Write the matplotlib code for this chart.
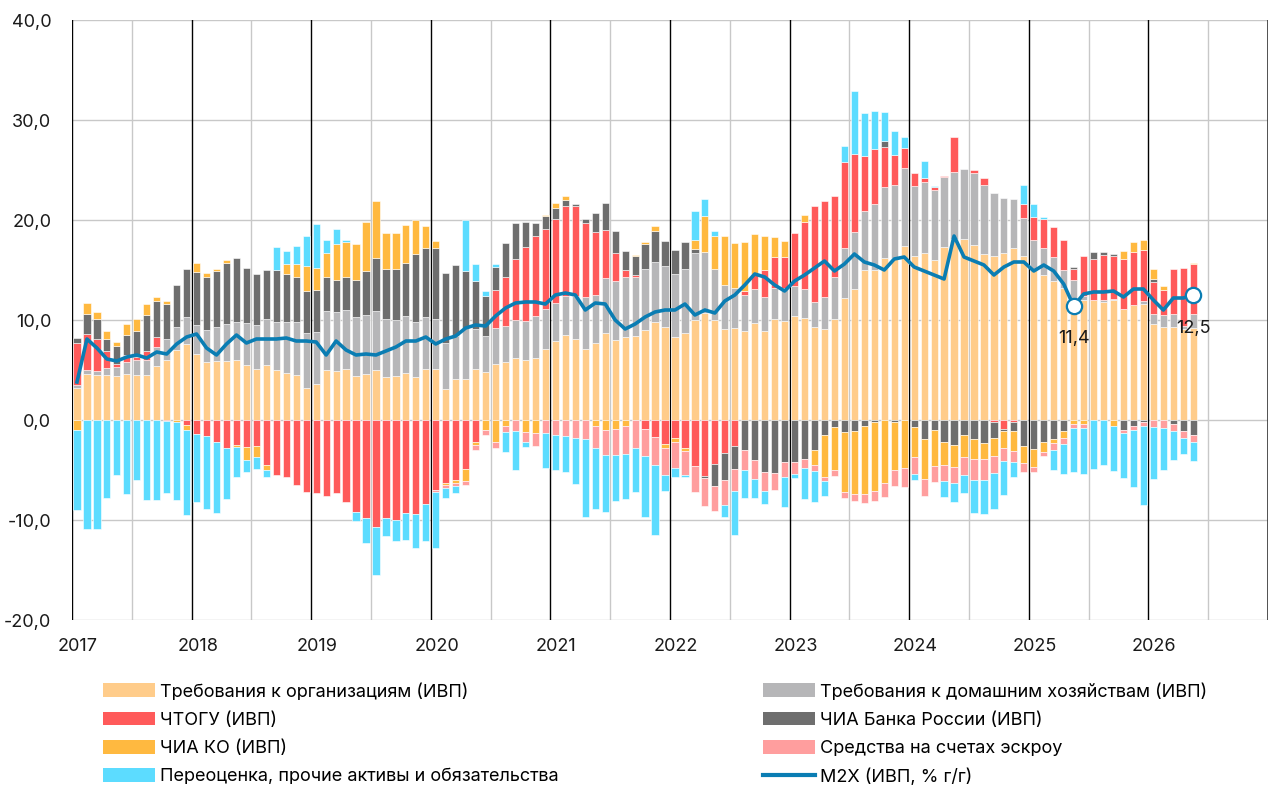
import numpy as np
import matplotlib.pyplot as plt
from matplotlib.patches import Patch
from matplotlib.lines import Line2D

plt.rcParams['font.family'] = ['Inter', 'DejaVu Sans']

# contributions to M2X growth, p.p., monthly from Jan 2017
org = [3.2, 4.6, 4.5, 4.5, 4.4, 4.6, 4.5, 4.5, 5.4, 6.0,
       7.0, 7.6, 6.6, 5.8, 5.9, 5.9, 6.0, 5.5, 5.1, 5.5,
       5.0, 4.7, 4.5, 3.2, 3.6, 5.0, 4.9, 5.1, 4.4, 4.6,
       5.0, 4.3, 4.4, 4.7, 4.3, 5.1, 5.1, 3.1, 4.1, 4.1,
       5.1, 4.8, 5.6, 5.8, 6.2, 6.0, 6.2, 7.1, 7.9, 8.5,
       8.1, 7.1, 7.7, 8.7, 8.0, 8.3, 8.4, 9.0, 9.8, 9.3,
       8.3, 8.7, 10.0, 10.7, 10.0, 9.1, 9.2, 8.9, 9.7, 8.9,
       10.1, 9.9, 10.4, 10.2, 9.3, 9.1, 10.1, 12.2, 13.1, 15.0,
       15.0, 16.2, 16.2, 17.4, 16.4, 16.7, 16.0, 17.3, 18.1, 18.1,
       17.5, 16.6, 16.4, 16.7, 17.2, 16.4, 15.0, 14.5, 13.9, 13.2,
       11.6, 12.0, 12.0, 11.8, 12.0, 11.1, 11.5, 11.6, 9.6, 9.3,
       9.3, 9.1, 9.2]
households = [0.3, 0.4, 0.4, 0.7, 0.9, 1.2, 1.5, 1.5, 1.9, 2.1,
              2.3, 2.7, 2.9, 3.2, 3.4, 3.7, 3.8, 4.2, 4.4, 4.6,
              4.8, 5.1, 5.3, 5.5, 5.2, 5.9, 5.9, 5.9, 5.9, 5.9,
              5.9, 5.8, 5.6, 5.7, 5.5, 5.2, 5.0, 4.6, 4.3, 5.1,
              4.0, 3.6, 3.6, 3.6, 3.8, 3.9, 4.2, 4.0, 3.8, 3.9,
              4.3, 5.2, 4.8, 5.5, 5.9, 6.0, 5.9, 6.1, 6.0, 6.1,
              6.3, 6.4, 6.7, 6.1, 5.1, 4.4, 4.0, 3.6, 3.4, 3.4,
              3.1, 3.3, 3.0, 2.9, 2.5, 3.2, 4.2, 5.0, 5.7, 5.9,
              6.6, 7.1, 7.3, 7.8, 7.0, 7.1, 7.0, 7.0, 6.7, 7.0,
              7.2, 6.9, 6.3, 5.5, 4.9, 3.8, 3.0, 2.7, 2.4, 1.8,
              2.4, 0.4, 0.0, 0.2, 0.1, 0.0, 0.0, 0.3, 1.0, 1.2,
              1.3, 0.3, 1.4]
gov = [4.2, 3.6, 3.2, 1.7, 0.3, 0.7, 0.3, 0.9, 1.0, -0.1,
       0.0, -0.5, -1.4, -1.6, -2.2, -2.8, -2.5, -2.7, -2.6, -4.5,
       -5.5, -5.7, -6.5, -7.2, -7.3, -7.6, -7.3, -8.2, -9.2, -9.8,
       -10.7, -9.8, -10.0, -9.3, -9.4, -8.4, -7.0, -6.3, -6.0, -4.9,
       -2.2, 0.0, 3.8, 4.9, 6.1, 7.4, 8.0, 8.0, 8.4, 9.0,
       9.0, 7.4, 6.3, 4.8, 2.8, 0.7, 0.2, -0.9, -1.7, -2.4,
       -1.8, -2.8, -4.6, -5.6, -4.4, -3.3, -2.6, 0.4, 1.5, 2.7,
       3.1, 3.1, 5.3, 6.7, 9.6, 9.6, 8.1, 8.6, 7.8, 5.5,
       5.5, 4.0, 3.0, 2.0, 1.3, 0.4, 0.3, 0.1, 3.5, 0.0,
       0.3, 0.7, -0.2, -0.9, -0.2, 1.4, 2.3, 2.9, 3.0, 3.0,
       1.1, 4.0, 4.1, 4.5, 4.3, 5.0, 5.3, 5.1, 3.2, 2.5,
       4.5, 5.8, 5.0]
cbr = [0.5, 2.0, 2.0, 1.2, 1.8, 2.0, 2.6, 3.6, 3.6, 3.5,
       4.2, 4.8, 5.3, 5.3, 5.6, 6.1, 6.4, 5.5, 5.1, 4.9,
       5.2, 4.8, 4.5, 4.2, 4.2, 3.4, 3.2, 3.3, 3.7, 4.4,
       5.3, 5.0, 5.1, 5.3, 6.8, 6.9, 7.1, 7.0, 7.1, 5.7,
       4.8, 4.0, 2.3, 3.4, 3.6, 2.5, 1.3, 1.3, 1.1, 0.6,
       0.2, 0.4, 1.9, 2.7, 2.2, 1.9, 1.9, 2.5, 3.1, 2.5,
       2.4, 2.7, 0.4, -0.2, -2.2, -2.7, -2.3, -3.0, -4.0, -5.2,
       -5.3, -4.2, -4.2, -3.9, -3.0, -1.5, -0.7, -1.2, -1.1, -0.6,
       -0.2, 0.6, -0.2, 0.0, -0.7, -1.9, -1.0, -2.2, -2.5, -1.5,
       -1.9, -2.3, -1.6, -0.2, -0.9, -2.6, -2.9, -2.2, -1.9, -1.1,
       0.2, 0.0, 0.7, 0.3, 0.2, -1.0, -0.6, -0.2, 0.3, 0.0,
       -0.4, -1.1, -1.5]
banks = [-1.0, 1.1, 0.7, 0.8, 0.4, 1.1, 1.2, 1.1, 0.4, 0.3,
         -0.2, -0.5, 0.9, 0.4, 0.2, 0.35, -0.2, -1.3, -1.1, -0.5,
         0.0, 1.0, 1.3, 2.5, 2.2, 2.4, 3.6, 3.5, 3.6, 4.9,
         5.7, 3.6, 3.6, 3.8, 3.4, 2.2, 0.7, -0.2, -0.3, -1.2,
         -0.3, -1.0, -2.2, -0.6, 0.0, -1.2, -1.3, 0.1, 0.5, 0.4,
         0.0, 0.0, -0.6, -1.0, -0.9, -0.6, 0.1, 0.2, 0.5, -0.4,
         -0.4, -0.3, 0.9, 3.6, 3.3, 4.9, 4.5, 4.9, 4.0, 3.4,
         2.0, 1.6, 0.0, 0.7, -1.5, -4.2, -4.3, -6.0, -6.3, -6.8,
         -6.9, -6.3, -4.8, -4.8, -3.0, -4.0, -3.6, -2.3, -2.2, -2.2,
         -2.0, -1.6, -1.8, -1.7, -2.0, -1.7, -1.8, -1.0, -0.4, -0.7,
         -0.4, -0.4, 0.0, 0.0, -0.6, 0.8, 1.0, 1.0, 1.0, 0.4,
         0.0, 0.0, 0.1]
escrow = [0.0] * 36 + [
          -0.2, -0.3, -0.3, -0.4,
          -0.5, -0.5, -0.6, -0.6, -1.1, -1.0, -1.3, -1.3, -1.5, -1.6,
          -1.8, -1.9, -2.2, -2.5, -2.6, -2.8, -2.8, -2.7, -2.8, -2.7,
          -2.6, -2.4, -2.6, -2.8, -2.5, -2.5, -2.2, -2.0, -1.9, -1.9,
          -1.7, -1.5, -1.2, -0.9, -0.6, -0.4, -0.6, -0.6, -0.7, -0.9,
          -1.0, -1.4, -1.6, -1.9, -1.7, -1.7, -1.6, -1.6, -1.6, -1.8,
          -2.1, -2.1, -1.7, -1.3, -1.1, -0.9, -0.5, -0.4, -0.7, -0.6,
          -0.4, -0.4, 0.0, 0.0, 0.0, -0.3, -0.4, -0.4, -0.7, -0.8,
          -0.7, -0.7, -0.7]
reval = [-8.0, -10.9, -10.9, -7.8, -5.5, -7.4, -6.0, -8.0, -8.0, -7.2,
         -7.8, -8.5, -6.8, -7.3, -7.1, -5.1, -3.0, -1.2, -1.2, -0.7,
         2.3, 1.3, 1.8, 3.0, 4.4, 1.3, 1.5, 0.2, -0.9, -2.5,
         -4.8, -1.8, -2.1, -2.7, -3.4, -3.7, -5.6, -1.0, -0.7, 5.1,
         1.7, 0.5, 0.3, -2.0, -3.9, -0.5, 0.0, -3.5, -3.5, -3.6,
         -4.6, -7.8, -6.1, -5.7, -4.6, -4.5, -4.4, -6.1, -7.0, -1.6,
         -0.9, -0.2, 2.9, 1.7, 0.5, -1.2, -4.4, -2.8, -1.9, -1.3,
         0.0, -3.0, -0.4, -3.1, -3.1, -1.5, 0.0, 1.6, 6.3, 4.3,
         3.8, 2.9, 2.4, 1.1, -0.6, 1.7, 0.1, -1.6, -1.9, -1.8,
         -3.3, -3.4, -3.6, -3.4, -1.5, 1.9, 1.3, 0.2, -2.0, -3.0,
         -4.4, -4.6, -4.9, -4.5, -4.5, -4.5, -5.7, -7.9, -5.2, -4.2,
         -2.9, -1.6, -1.9]
m2x = [3.8, 8.1, 7.2, 6.1, 5.9, 6.3, 6.5, 6.2, 6.8, 6.6,
       7.6, 8.3, 8.6, 7.2, 6.5, 7.6, 8.5, 7.7, 8.1, 8.1,
       8.1, 8.2, 7.9, 7.9, 7.8, 6.5, 7.9, 7.0, 6.5, 6.6,
       6.5, 6.9, 7.3, 7.9, 7.9, 8.3, 7.6, 8.1, 8.4, 9.2,
       9.5, 9.4, 10.4, 11.2, 11.7, 11.8, 11.8, 11.6, 12.5, 12.7,
       12.5, 11.0, 11.7, 11.6, 10.0, 9.1, 9.6, 10.3, 10.8, 11.0,
       11.0, 11.6, 10.5, 11.0, 10.7, 11.9, 12.5, 13.5, 14.6, 14.3,
       13.5, 12.9, 13.9, 14.5, 15.2, 15.9, 14.9, 15.6, 16.6, 15.8,
       15.5, 15.0, 16.1, 16.3, 15.3, 14.9, 14.5, 14.1, 18.4, 16.3,
       15.9, 15.5, 14.5, 15.3, 15.8, 15.8, 14.9, 15.5, 14.9, 13.6,
       11.4, 12.6, 12.8, 12.8, 12.9, 12.3, 13.1, 13.1, 12.0, 11.0,
       12.2, 12.2, 12.5]

names = ["Требования к организациям (ИВП)", "Требования к домашним хозяйствам (ИВП)",
         "ЧТОГУ (ИВП)", "ЧИА Банка России (ИВП)", "ЧИА КО (ИВП)",
         "Средства на счетах эскроу", "Переоценка, прочие активы и обязательства"]
colors = ["#FFCC8A", "#B6B6B8", "#FF5A5A", "#6E6E6E", "#FFB940", "#FF9E9E", "#5CDCFF"]
line_color = "#0A7DB3"

n = len(org)
x = 2017 + (np.arange(n) + 0.5) / 12
m2x = np.array(m2x)

fig = plt.figure(figsize=(12.71, 7.87), dpi=100)
ax = fig.add_axes([72/1271, 1-620/787, (1268-72)/1271, 600/787])

# grid
for yv in range(-20, 41, 10):
    ax.axhline(yv, color="#C8C8C8", lw=1, zorder=0)
for yr in range(2017, 2027):
    ax.axvline(yr, color="black", lw=1, zorder=1)
    ax.axvline(yr + 0.5, color="#C8C8C8", lw=1, zorder=0)
ax.axvline(2027, color="#333333", lw=1.2, zorder=1)

pos = np.zeros(n)
neg = np.zeros(n)
for vals, c in zip([org, households, gov, cbr, banks, escrow, reval], colors):
    v = np.array(vals, float)
    up = v > 0
    dn = v < 0
    ax.bar(x[up], v[up], bottom=pos[up], width=0.72/12, color=c,
           edgecolor="white", linewidth=0.4, zorder=2)
    ax.bar(x[dn], v[dn], bottom=neg[dn], width=0.72/12, color=c,
           edgecolor="white", linewidth=0.4, zorder=2)
    pos[up] += v[up]
    neg[dn] += v[dn]

ax.plot(x, m2x, color=line_color, lw=2.6, zorder=4, solid_joinstyle="round")
for i in [100, 112]:
    ax.plot(x[i], m2x[i], "o", ms=11, mfc="white", mec=line_color, mew=1.6, zorder=5)
    ax.text(x[i], m2x[i] - 3.3, f"{m2x[i]:.1f}".replace(".", ","), ha="center",
            va="center", fontsize=13, color="#1a1a1a", zorder=6)

ax.set_xlim(2017, 2027)
ax.set_ylim(-20, 40)
ax.set_yticks(range(-20, 41, 10))
ax.set_yticklabels([f"{v:.1f}".replace(".", ",") for v in range(-20, 41, 10)])
ax.set_xticks([yr + 0.05 for yr in range(2017, 2027)])
ax.set_xticklabels([str(yr) for yr in range(2017, 2027)])
ax.tick_params(length=0, labelsize=13, colors="#1a1a1a")
ax.tick_params(axis="y", pad=15)
ax.tick_params(axis="x", pad=13)
for s in ax.spines.values():
    s.set_visible(False)

h = [Patch(facecolor=c) for c in colors]
h_line = Line2D([], [], color=line_color, lw=3)
leg_kw = dict(frameon=False, fontsize=13, handlelength=2.9, handleheight=0.78,
              handletextpad=0.26, labelspacing=0.62, borderpad=0, borderaxespad=0,
              loc="upper left")
fig.legend([h[0], h[2], h[4], h[6]], [names[0], names[2], names[4], names[6]],
           bbox_to_anchor=(103/1271, 1-683/787), **leg_kw)
fig.legend([h[1], h[3], h[5], h_line], [names[1], names[3], names[5], "M2X (ИВП, % г/г)"],
           bbox_to_anchor=(763/1271, 1-683/787), **leg_kw)

fig.savefig("out.png", dpi=100)
